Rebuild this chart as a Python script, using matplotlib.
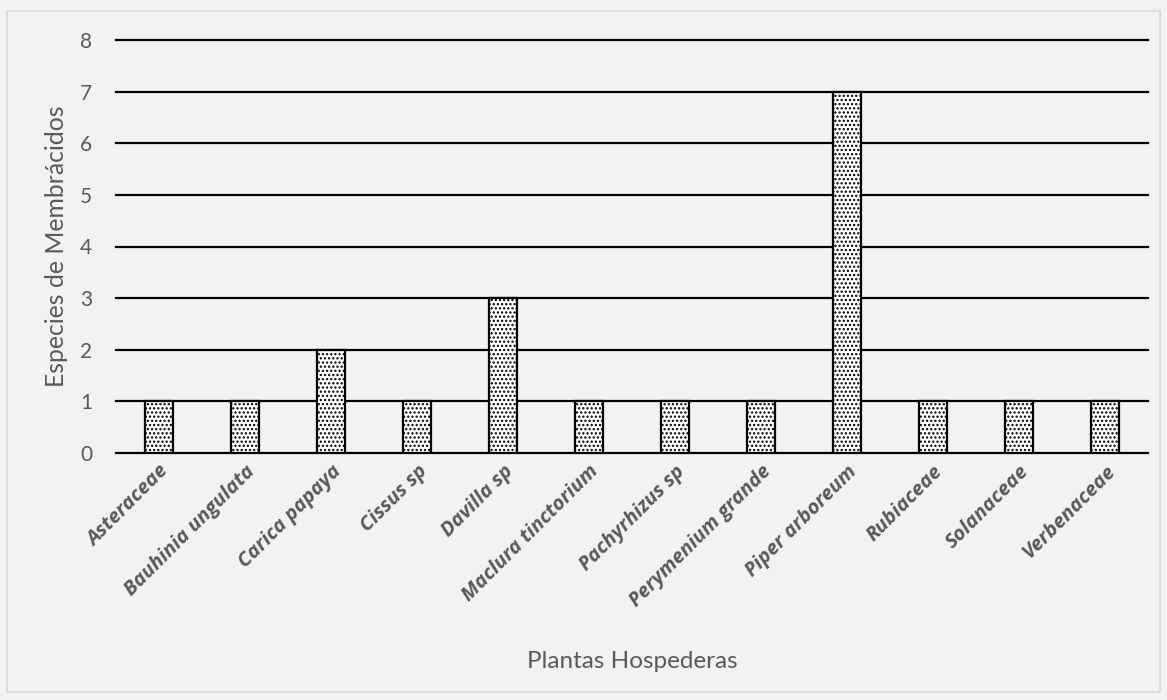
import matplotlib
matplotlib.use("Agg")
import matplotlib.pyplot as plt
from matplotlib.patches import Rectangle

categories = ["Asteraceae", "Bauhinia ungulata", "Carica papaya", "Cissus sp",
              "Davilla sp", "Maclura tinctorium", "Pachyrhizus sp", "Perymenium grande",
              "Piper arboreum", "Rubiaceae", "Solanaceae", "Verbenaceae"]
values = [1, 1, 2, 1, 3, 1, 1, 1, 7, 1, 1, 1]
yticks = [0, 1, 2, 3, 4, 5, 6, 7, 8]

plt.rcParams['font.family'] = ['Lato', 'DejaVu Sans']
plt.rcParams['hatch.linewidth'] = 1.1
plt.rcParams['hatch.color'] = 'black'

bg = '#f2f2f2'
grey = '#595959'
fig = plt.figure(figsize=(11.67, 7), dpi=100, facecolor=bg)
fig.patches.append(Rectangle((7/1167, 1-692/700), (1160-7)/1167, (692-11)/700,
                             transform=fig.transFigure, fill=False,
                             edgecolor='#d9d9d9', linewidth=1.2))
ax = fig.add_axes([116/1167, 1-453/700, (1148-116)/1167, (453-40)/700])
ax.set_facecolor(bg)

x = range(len(categories))
ax.bar(x, values, width=0.32, color='white', edgecolor='black', linewidth=1.6,
       hatch='....', zorder=3)
ax.set_xlim(-0.5, len(categories)-0.5)
ax.set_ylim(0, 8)
ax.set_yticks(yticks)
ax.yaxis.grid(True, color='black', linewidth=1.6, zorder=0)
for gl in ax.get_ygridlines():
    gl.set_clip_on(False)
ax.set_axisbelow(True)
for s in ax.spines.values():
    s.set_visible(False)
ax.tick_params(axis='both', length=0, colors=grey, labelsize=15)
ax.tick_params(axis='y', pad=17)
ax.tick_params(axis='x', pad=6)
ax.set_xticks(list(x))
ax.set_xticklabels(categories, rotation=45, ha='right', rotation_mode='anchor',
                   fontstyle='italic', fontweight='bold', color=grey, fontsize=14.5,
                   family=['Open Sans', 'DejaVu Sans'])
ax.set_ylabel("Especies de Membrácidos", fontsize=17.8, color=grey, labelpad=9)
fig.text(632/1167, 1-662/700, "Plantas Hospederas", ha='center', va='center',
         fontsize=17.5, color=grey)

fig.savefig("out.png", dpi=100, facecolor=bg)
